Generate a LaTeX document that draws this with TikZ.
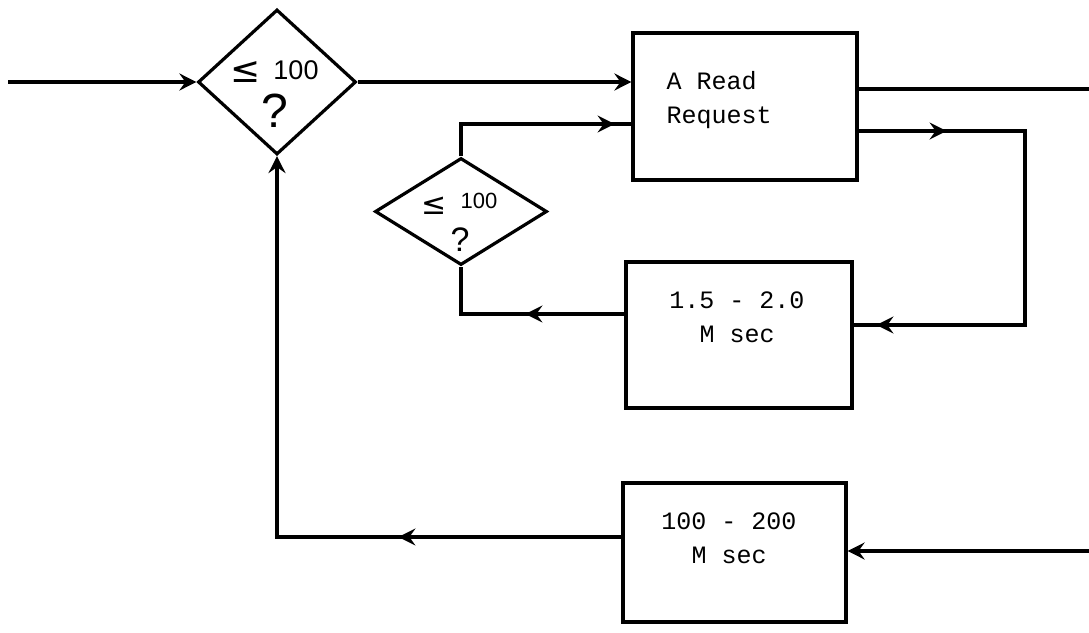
\documentclass[tikz,border=0pt]{standalone}
\usepackage{fontspec}
\setmainfont{Liberation Sans}
\newfontfamily\monof{Liberation Mono}
\newfontfamily\djv{DejaVu Sans}
\usetikzlibrary{shapes.geometric,arrows.meta,decorations.markings}
\tikzset{
  myarr/.tip={Stealth[length=17pt,width=17pt,inset=6pt]},
  box/.style={draw, rectangle, inner sep=0pt},
  dia/.style={draw, diamond, inner sep=0pt},
  btext/.style={inner sep=0pt, font=\monof\fontsize{25}{34}\selectfont},
  dnum/.style={inner sep=0pt},
  marrow/.style={postaction={decorate, decoration={markings, mark=at position #1 with {\arrow{myarr}}}}},
}
\begin{document}
\begin{tikzpicture}[x=1pt, y=-1pt, line width=3.2pt, line join=miter]
\useasboundingbox (0,0) rectangle (1089,632);

% boxes
\node[box, minimum width=224pt, minimum height=147pt] (b1) at (745,106.5) {};
\node[box, minimum width=226pt, minimum height=146pt] (b2) at (739,335) {};
\node[box, minimum width=223pt, minimum height=139pt] (b3) at (734.5,552.5) {};

% box texts
\node[btext, anchor=west, align=left] (t1) at (665,100) {A Read\\Request};
\node[btext, align=center] (t2) at (737,317) {1.5 - 2.0\\M sec};
\node[btext, align=center] (t3) at (729,538) {100 - 200\\M sec};

% diamonds
\node[dia, minimum width=158pt, minimum height=145pt] (d1) at (277,82) {};
\node[dia, minimum width=172pt, minimum height=107pt] (d2) at (461,211.5) {};

% diamond texts
\node[dnum, font=\djv\fontsize{36}{36}\selectfont] (d1le) at (246,72) {≤};
\node[dnum, font=\fontsize{27}{27}\selectfont] (d1n) at (296,70) {100};
\node[dnum, font=\fontsize{48}{48}\selectfont] (d1q) at (275,111) {?};
\node[dnum, font=\djv\fontsize{30}{30}\selectfont] (d2le) at (434,206) {≤};
\node[dnum, font=\fontsize{22}{22}\selectfont] (d2n) at (479,201) {100};
\node[dnum, font=\fontsize{34}{34}\selectfont] (d2q) at (460,240) {?};

% coordinates
\coordinate (in) at (8,82);
\coordinate (o1) at (1089,89);
\coordinate (r1) at (1025,131);
\coordinate (r2) at (1025,325);
\coordinate (l1) at (461,314);
\coordinate (u1) at (461,124);
\coordinate (l2) at (277,537);
\coordinate (r3) at (1089,551);

% connectors
\draw[-{myarr}] (in) -- (d1.west);
\draw[-{myarr}] (d1.east) -- (b1.west |- d1.east);
\draw (b1.east |- o1) -- (o1);
\draw[marrow=88pt, marrow=509pt] (b1.east |- r1) -- (r1) -- (r2) -- (b2.east |- r2);
\draw[marrow=99pt] (b2.west |- l1) -- (l1) -- (d2.south);
\draw[marrow=186pt] (d2.north) -- (u1) -- (b1.west |- u1);
\draw[marrow=223pt, -{myarr}] (b3.west |- l2) -- (l2) -- (d1.south);
\draw[-{myarr}] (r3) -- (b3.east |- r3);
\end{tikzpicture}
\end{document}
